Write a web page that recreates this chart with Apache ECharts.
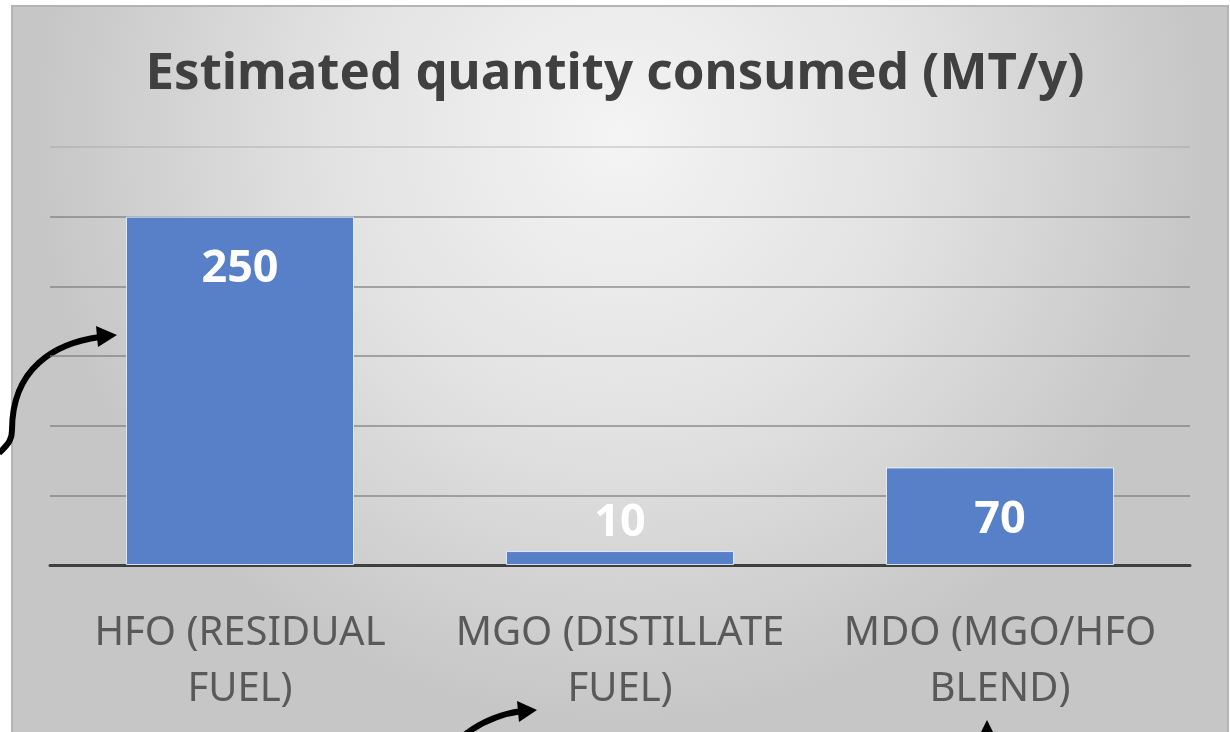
<!DOCTYPE html>
<html>
<head>
<meta charset="utf-8">
<script src="https://cdn.jsdelivr.net/npm/echarts@6/dist/echarts.min.js"></script>
<style>
  html, body { margin: 0; padding: 0; background: #ffffff; }
  #chart { width: 1230px; height: 732px; }
</style>
</head>
<body>
<div id="chart"></div>
<script>
// Fuel types and their estimated yearly consumption (MT/y)
const categories = ['HFO (RESIDUAL\nFUEL)', 'MGO (DISTILLATE\nFUEL)', 'MDO (MGO/HFO\nBLEND)'];
const consumption = [250, 10, 70];
const chartTitle = 'Estimated quantity consumed (MT/y)';
const axisMin = 0, axisMax = 300, axisStep = 50;

const chart = echarts.init(document.getElementById('chart'), null, { renderer: 'canvas' });

const font = '"Noto Sans", "Open Sans", sans-serif';

// Values too short to hold their label get it placed just above the bar
const barData = consumption.map(v => {
  const small = v < 30;
  return {
    value: v,
    label: small
      ? { position: 'top', distance: 5 }
      : { position: 'insideTop', distance: 30 }
  };
});

// Gridlines: the top one is drawn fainter
const gridColors = ['rgba(120,120,120,0.6)', 'rgba(120,120,120,0.6)', 'rgba(120,120,120,0.6)',
  'rgba(120,120,120,0.6)', 'rgba(120,120,120,0.6)', 'rgba(120,120,120,0.6)', 'rgba(150,150,150,0.3)'];

const option = {
  backgroundColor: '#ffffff',
  animation: false,
  graphic: [
    {
      type: 'rect',
      z: -10,
      silent: true,
      shape: { x: 12, y: 6, width: 1216, height: 730 },
      style: {
        fill: {
          type: 'radial', x: 0.5, y: 0.18, r: 0.8,
          colorStops: [
            { offset: 0, color: '#f4f4f4' },
            { offset: 0.5, color: '#e2e2e2' },
            { offset: 1, color: '#c6c6c6' }
          ]
        },
        stroke: '#b4b4b4',
        lineWidth: 2
      }
    },
    // annotation arrows
    {
      type: 'group', z: 100, silent: true,
      children: [
        {
          type: 'bezierCurve',
          shape: { x1: -1, y1: 453, x2: 12, y2: 430, cpx1: 10, cpy1: 443, cpx2: 12, cpy2: 438 },
          style: { stroke: '#000', lineWidth: 6, fill: null }
        },
        {
          type: 'bezierCurve',
          shape: { x1: 12, y1: 430, x2: 100, y2: 337, cpx1: 12, cpy1: 368, cpx2: 55, cpy2: 343 },
          style: { stroke: '#000', lineWidth: 6, fill: null }
        },
        {
          type: 'polygon',
          shape: { points: [[96, 326], [117, 335], [98, 347]] },
          style: { fill: '#000' }
        },
        {
          type: 'bezierCurve',
          shape: { x1: 462, y1: 737, x2: 522, y2: 711, cpx1: 480, cpx2: 500, cpy1: 722, cpy2: 714 },
          style: { stroke: '#000', lineWidth: 6, fill: null }
        },
        {
          type: 'polygon',
          shape: { points: [[517, 701], [537, 710], [519, 722]] },
          style: { fill: '#000' }
        },
        {
          type: 'polygon',
          shape: { points: [[980, 734], [987, 720], [994, 734]] },
          style: { fill: '#000' }
        }
      ]
    }
  ],
  title: {
    text: chartTitle,
    left: 'center',
    top: 44,
    textStyle: {
      fontFamily: font,
      fontWeight: 'bold',
      fontSize: 51,
      color: '#404040'
    }
  },
  grid: { left: 50, right: 40, top: 147, bottom: 167, containLabel: false },
  xAxis: {
    type: 'category',
    data: categories,
    axisTick: { show: false },
    axisLine: { lineStyle: { color: '#3f3f3f', width: 3 } },
    axisLabel: {
      fontFamily: font,
      fontSize: 40,
      color: '#595959',
      lineHeight: 56,
      margin: 41,
      interval: 0
    }
  },
  yAxis: {
    type: 'value',
    min: axisMin,
    max: axisMax,
    interval: axisStep,
    axisLabel: { show: false },
    axisLine: { show: false },
    axisTick: { show: false },
    splitLine: { lineStyle: { color: gridColors, width: 2 } }
  },
  series: [
    {
      type: 'bar',
      data: barData,
      barWidth: '60%',
      itemStyle: {
        color: '#5780c8',
        borderColor: 'rgba(235,245,255,0.85)',
        borderWidth: 1
      },
      label: {
        show: true,
        color: '#ffffff',
        fontFamily: font,
        fontWeight: 'bold',
        fontSize: 45
      }
    }
  ]
};

chart.setOption(option);
</script>
</body>
</html>
